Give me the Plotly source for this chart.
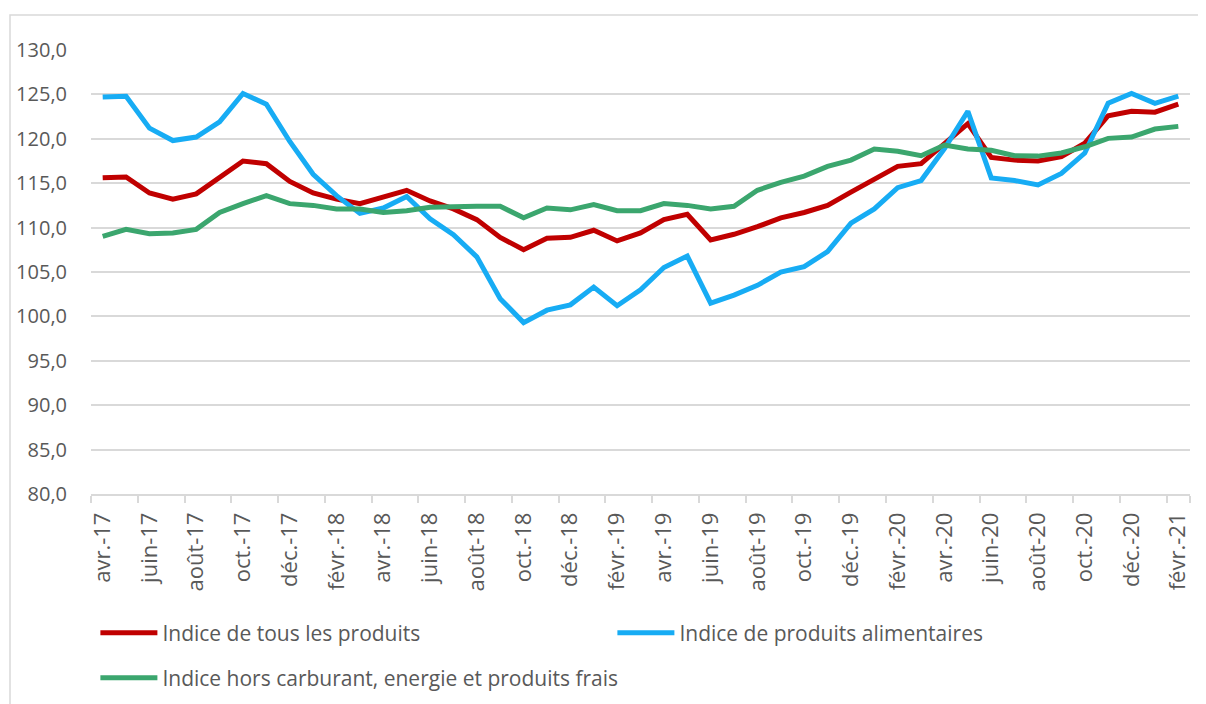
import plotly.graph_objects as go

months = ["avr.-17", "mai-17", "juin-17", "juil.-17", "août-17", "sept.-17", "oct.-17", "nov.-17", "déc.-17",
          "janv.-18", "févr.-18", "mars-18", "avr.-18", "mai-18", "juin-18", "juil.-18", "août-18", "sept.-18",
          "oct.-18", "nov.-18", "déc.-18",
          "janv.-19", "févr.-19", "mars-19", "avr.-19", "mai-19", "juin-19", "juil.-19", "août-19", "sept.-19",
          "oct.-19", "nov.-19", "déc.-19",
          "janv.-20", "févr.-20", "mars-20", "avr.-20", "mai-20", "juin-20", "juil.-20", "août-20", "sept.-20",
          "oct.-20", "nov.-20", "déc.-20",
          "janv.-21", "févr.-21"]

tous_produits = [115.6, 115.7, 113.9, 113.2, 113.8, 115.6, 117.5, 117.2, 115.2,
                 113.9, 113.2, 112.7, 113.5, 114.2, 113.0, 112.1, 110.9, 108.9, 107.5, 108.8, 108.9,
                 109.7, 108.5, 109.4, 110.9, 111.5, 108.6, 109.25, 110.1, 111.1, 111.7, 112.5, 114.0,
                 115.4, 116.9, 117.2, 119.4, 121.7, 117.9, 117.6, 117.5, 118.0, 119.5, 122.6, 123.1,
                 123.0, 123.9]

alimentaires = [124.7, 124.8, 121.2, 119.8, 120.2, 121.9, 125.1, 123.9, 119.7,
                116.0, 113.6, 111.6, 112.2, 113.5, 111.0, 109.2, 106.7, 102.0, 99.3, 100.7, 101.3,
                103.3, 101.2, 103.0, 105.5, 106.8, 101.5, 102.4, 103.5, 105.0, 105.6, 107.3, 110.5,
                112.1, 114.5, 115.3, 118.9, 123.1, 115.6, 115.3, 114.8, 116.1, 118.4, 124.0, 125.1,
                124.0, 124.8]

hors_carburant = [109.0, 109.8, 109.3, 109.4, 109.8, 111.7, 112.7, 113.6, 112.7,
                  112.5, 112.1, 112.1, 111.7, 111.9, 112.3, 112.4, 112.4, 112.4, 111.1, 112.2, 112.0,
                  112.6, 111.9, 111.9, 112.7, 112.5, 112.1, 112.4, 114.2, 115.1, 115.8, 116.9, 117.6,
                  118.85, 118.6, 118.1, 119.3, 118.85, 118.7, 118.1, 118.05, 118.4, 119.1, 120.05, 120.2,
                  121.1, 121.4]

series_names = ["Indice de tous les produits",
                "Indice de produits alimentaires",
                "Indice hors carburant, energie et produits frais"]

tick_labels = months[::2]
y_ticks = [80, 85, 90, 95, 100, 105, 110, 115, 120, 125, 130]

FONT = "Open Sans"
TXT = "#595959"
GRID = "#d9d9d9"

# page is offset by the 8px default body margin
W, H = 1198, 696
ML, MR, MT, MB = 83, 16, 42, 210
PW, PH = W - ML - MR, H - MT - MB

fig = go.Figure()
fig.add_trace(go.Scatter(x=months, y=tous_produits, mode="lines", name=series_names[0],
                         line=dict(color="#C00000", width=5), legend="legend"))
fig.add_trace(go.Scatter(x=months, y=alimentaires, mode="lines", name=series_names[1],
                         line=dict(color="#17ACF4", width=5), legend="legend"))
fig.add_trace(go.Scatter(x=months, y=hors_carburant, mode="lines", name=series_names[2],
                         line=dict(color="#3BA66E", width=5), legend="legend2"))

fig.update_layout(
    width=W, height=H,
    paper_bgcolor="white", plot_bgcolor="white",
    margin=dict(l=ML, r=MR, t=MT, b=MB, autoexpand=False),
    separators=", ",
    font=dict(family=FONT, color=TXT),
    xaxis=dict(type="category", categoryorder="array", categoryarray=months,
               range=[-0.5, len(months) - 0.5],
               tickmode="array", tickvals=tick_labels, ticktext=tick_labels,
               tickson="boundaries", ticks="outside", ticklen=7, tickcolor=GRID, tickwidth=1.5,
               tickangle=-90, tickfont=dict(family=FONT, size=22, color=TXT),
               ticklabelstandoff=8,
               showgrid=False, showline=True, linecolor=GRID, linewidth=1.5, zeroline=False),
    yaxis=dict(range=[80, 130], tickmode="array", tickvals=y_ticks, tickformat=".1f",
               tickfont=dict(family=FONT, size=20, color=TXT), ticks="",
               ticklabelstandoff=23,
               showgrid=True, gridcolor=GRID, gridwidth=1.5, zeroline=False, showline=False),
    legend=dict(orientation="h", x=0.004, xanchor="left", y=(486 - 625) / PH, yanchor="middle",
                font=dict(family=FONT, size=21, color=TXT), itemwidth=57,
                entrywidth=445, bgcolor="rgba(0,0,0,0)", traceorder="normal"),
    legend2=dict(orientation="h", x=0.004, xanchor="left", y=(486 - 670) / PH, yanchor="middle",
                 font=dict(family=FONT, size=21, color=TXT), itemwidth=57,
                 bgcolor="rgba(0,0,0,0)"),
    shapes=[dict(type="rect", xref="paper", yref="paper",
                 x0=(2 - ML) / PW, x1=(W + 10 - ML) / PW,
                 y0=(MT + PH - H - 10) / PH, y1=(MT + PH - 7) / PH,
                 line=dict(color=GRID, width=1.5), fillcolor="rgba(0,0,0,0)", layer="below")],
)

fig.write_html("out.html")
